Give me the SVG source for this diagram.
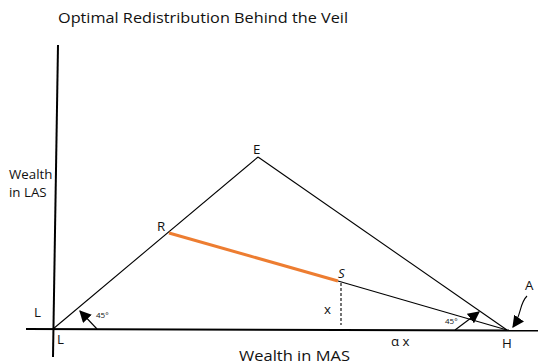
<svg xmlns="http://www.w3.org/2000/svg" width="538" height="364" viewBox="0 0 538 364">
<style>
text{font-family:"Open Sans","Liberation Sans",sans-serif;fill:#111}
.lbl{font-size:13.3px}
.small{font-size:8px}
.axis{stroke:#000;stroke-width:2;fill:none}
.thin{stroke:#000;stroke-width:1.1;fill:none}
</style>
<defs>
<marker id="ah2" viewBox="0 0 10 10" refX="9" refY="5" markerWidth="12" markerHeight="12" orient="auto" markerUnits="userSpaceOnUse">
<path d="M0,0 L10,5 L0,10 z" fill="#000"/>
</marker>
</defs>
<text x="58" y="23" style="font-size:14.5px" textLength="290" lengthAdjust="spacingAndGlyphs">Optimal Redistribution Behind the Veil</text>
<g id="axes">
<line class="axis" x1="58" y1="45" x2="53" y2="357"/>
<line class="axis" x1="26" y1="329" x2="538" y2="330.5"/>
</g>
<g id="connectors">
<line class="thin" x1="53" y1="329" x2="258" y2="157"/>
<line class="thin" x1="258" y1="157" x2="507" y2="330"/>
<line class="thin" x1="338" y1="281" x2="507" y2="330"/>
<line x1="169" y1="233" x2="338" y2="281" stroke="#ED7D31" stroke-width="3"/>
<line class="thin" x1="341" y1="283" x2="341" y2="325" stroke-dasharray="3,2"/>
<line class="thin" x1="97" y1="329" x2="80" y2="311" marker-end="url(#ah2)"/>
<line class="thin" x1="455" y1="330" x2="479" y2="312" marker-end="url(#ah2)"/>
<path class="thin" d="M527,296 C519,304 522,314 513,327" marker-end="url(#ah2)"/>
</g>
<g id="node-E"><text class="lbl" x="253" y="154">E</text></g>
<g id="node-R"><text class="lbl" x="157" y="231">R</text></g>
<g id="node-S"><text class="lbl" x="338" y="278" font-style="italic">S</text></g>
<g id="node-H"><text class="lbl" x="502" y="348">H</text></g>
<g id="node-L"><text class="lbl" x="34" y="317">L</text><text class="lbl" x="57" y="344">L</text></g>
<g id="labels">
<text class="lbl" x="9" y="179">Wealth</text>
<text class="lbl" x="9" y="197">in LAS</text>
<text x="239" y="361" style="font-size:14.5px" textLength="111" lengthAdjust="spacingAndGlyphs">Wealth in MAS</text>
<text class="lbl" x="324" y="314">x</text>
<text class="lbl" x="391" y="346">α x</text>
<text class="lbl" x="525" y="290">A</text>
<text class="small" x="96" y="318">45°</text>
<text class="small" x="445" y="324">45°</text>
</g>
</svg>
